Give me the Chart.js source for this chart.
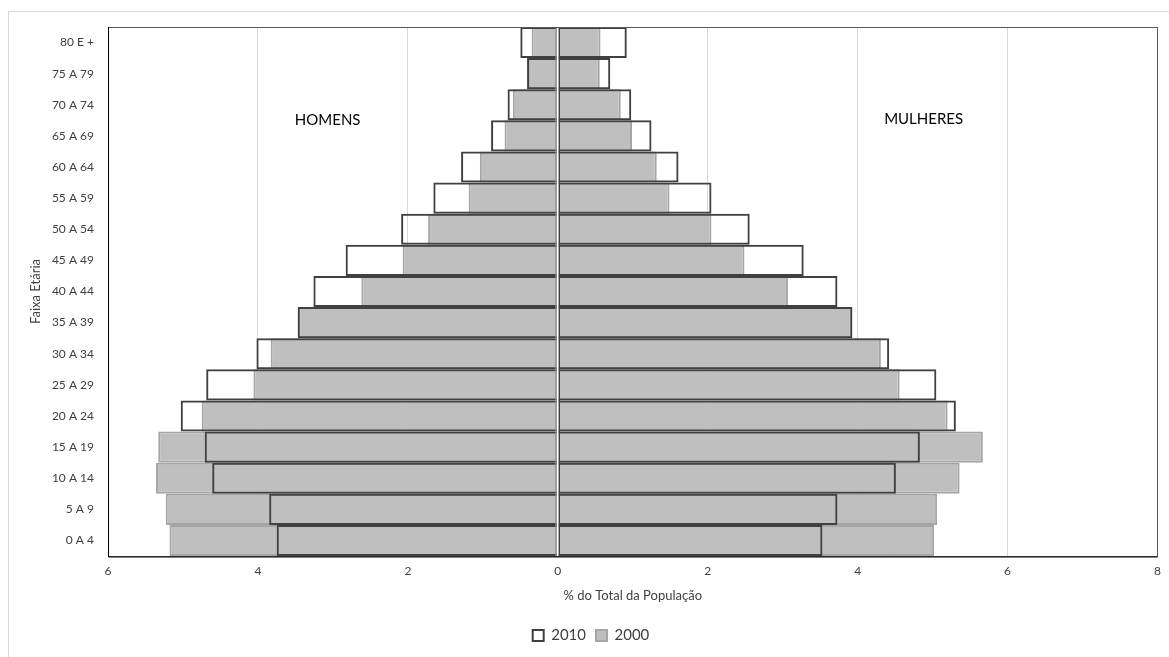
<!DOCTYPE html>
<html>
<head>
<meta charset="utf-8">
<script src="https://cdn.jsdelivr.net/npm/chart.js@4/dist/chart.umd.min.js"></script>
<style>
  html, body { margin: 0; padding: 0; background: #fff; }
  #wrap { position: absolute; left: 0; top: 0; width: 1169px; height: 657px; }
  #frame { position: absolute; left: 8px; top: 11px; width: 1180px; height: 670px; border: 1px solid #d9d9d9; box-sizing: border-box; }
  canvas { position: absolute; left: 0; top: 0; }
</style>
</head>
<body>
<div id="frame"></div>
<div id="wrap"><canvas id="c" width="1169" height="657"></canvas></div>
<script>
// Categories (bottom to top)
const categories = ['0 A 4','5 A 9','10 A 14','15 A 19','20 A 24','25 A 29','30 A 34','35 A 39','40 A 44','45 A 49','50 A 54','55 A 59','60 A 64','65 A 69','70 A 74','75 A 79','80 E +'];

// % of total population, men (shown to the left) and women (shown to the right)
const homens2010   = [3.75, 3.85, 4.61, 4.71, 5.03, 4.69, 4.02, 3.47, 3.26, 2.83, 2.09, 1.66, 1.29, 0.89, 0.67, 0.41, 0.50];
const mulheres2010 = [3.53, 3.73, 4.51, 4.83, 5.31, 5.05, 4.42, 3.93, 3.73, 3.28, 2.56, 2.05, 1.61, 1.25, 0.98, 0.70, 0.92];
const homens2000   = [5.18, 5.23, 5.36, 5.33, 4.75, 4.06, 3.83, 3.46, 2.62, 2.07, 1.73, 1.19, 1.04, 0.71, 0.60, 0.40, 0.35];
const mulheres2000 = [5.02, 5.06, 5.36, 5.67, 5.20, 4.56, 4.31, 3.92, 3.07, 2.49, 2.05, 1.49, 1.32, 0.99, 0.84, 0.56, 0.57];

const seriesLabels = ['2010', '2000'];
const xTicks = [-6, -4, -2, 0, 2, 4, 6, 8];

const sideLabels = [
  { text: 'HOMENS',   x: -3.07, y: 13.5 },
  { text: 'MULHERES', x: 4.88,  y: 13.55 }
];

const FONT = 'Lato, "Open Sans", sans-serif';

const neg = a => a.map(v => -v);

const frame2010 = { backgroundColor: 'rgba(0,0,0,0)', borderColor: '#404040', borderWidth: 2 };
const fill2000  = { backgroundColor: '#bfbfbf', borderColor: '#a6a6a6', borderWidth: 2 };

const plotDecor = {
  id: 'plotDecor',
  afterDatasetsDraw(chart) {
    const { ctx, chartArea: a, scales: { x, y } } = chart;
    const x0 = x.getPixelForValue(0);
    ctx.save();
    // zero axis: double line
    ctx.fillStyle = '#ffffff';
    ctx.fillRect(x0 - 1, a.top, 2, a.bottom - a.top);
    ctx.fillStyle = '#8a8a8a';
    ctx.fillRect(x0 - 2.5, a.top, 1.3, a.bottom - a.top);
    ctx.fillStyle = '#404040';
    ctx.fillRect(x0 + 0.8, a.top, 1.4, a.bottom - a.top);
    // plot border
    ctx.strokeStyle = '#595959';
    ctx.lineWidth = 1;
    ctx.strokeRect(Math.round(a.left) + 0.5, Math.round(a.top) + 0.5, Math.round(a.right - a.left) - 1, Math.round(a.bottom - a.top));
    ctx.strokeStyle = '#000';
    ctx.beginPath();
    ctx.moveTo(Math.round(a.left) + 0.5, a.top);
    ctx.lineTo(Math.round(a.left) + 0.5, a.bottom + 1);
    ctx.lineTo(a.right, a.bottom + 1);
    ctx.stroke();
    // side labels
    ctx.fillStyle = '#000';
    ctx.font = '15px ' + FONT;
    ctx.textAlign = 'center';
    ctx.textBaseline = 'middle';
    sideLabels.forEach(s => ctx.fillText(s.text, x.getPixelForValue(s.x), y.getPixelForValue(s.y)));
    ctx.restore();
  }
};

new Chart(document.getElementById('c'), {
  type: 'bar',
  data: {
    labels: categories,
    datasets: [
      Object.assign({ label: seriesLabels[0], data: neg(homens2010) }, frame2010),
      Object.assign({ label: seriesLabels[0] + ' ', data: mulheres2010 }, frame2010),
      Object.assign({ label: seriesLabels[1], data: neg(homens2000) }, fill2000),
      Object.assign({ label: seriesLabels[1] + ' ', data: mulheres2000 }, fill2000)
    ]
  },
  options: {
    indexAxis: 'y',
    responsive: false,
    animation: false,
    datasets: { bar: { grouped: false, barPercentage: 1, categoryPercentage: 1, borderSkipped: 'start', inflateAmount: 0 } },
    layout: { padding: { left: 24, right: 11, top: 27, bottom: 4 } },
    plugins: {
      tooltip: { enabled: false },
      legend: {
        position: 'bottom',
        labels: {
          filter: item => item.datasetIndex % 2 === 0,
          font: { family: FONT, size: 15 },
          color: '#404040',
          boxWidth: 11,
          boxHeight: 11,
          padding: 10
        }
      }
    },
    scales: {
      x: {
        min: -6, max: 8,
        afterBuildTicks: s => { s.ticks = xTicks.map(v => ({ value: v })); },
        afterFit: s => { s.height = 62; },
        ticks: {
          callback: v => Math.abs(v),
          font: { family: FONT, size: 12 },
          color: '#404040',
          padding: 8,
          maxRotation: 0
        },
        grid: {
          color: ctx => (ctx.tick && (ctx.tick.value === 0 || ctx.tick.value === -6 || ctx.tick.value === 8)) ? 'rgba(0,0,0,0)' : '#d9d9d9',
          drawTicks: false
        },
        border: { display: false },
        title: {
          display: true,
          text: '% do Total da População',
          font: { family: FONT, size: 13 },
          color: '#404040',
          padding: { top: 4, bottom: 14 }
        }
      },
      y: {
        reverse: true,
        afterFit: s => { s.width = 84; },
        grid: { display: false, drawTicks: false },
        border: { display: false },
        ticks: {
          font: { family: FONT, size: 12 },
          color: '#404040',
          padding: 14,
          autoSkip: false
        },
        title: {
          display: true,
          text: 'Faixa Etária',
          font: { family: FONT, size: 13 },
          color: '#404040',
          padding: { top: 4, bottom: 4 }
        }
      }
    }
  },
  plugins: [plotDecor]
});
</script>
</body>
</html>
